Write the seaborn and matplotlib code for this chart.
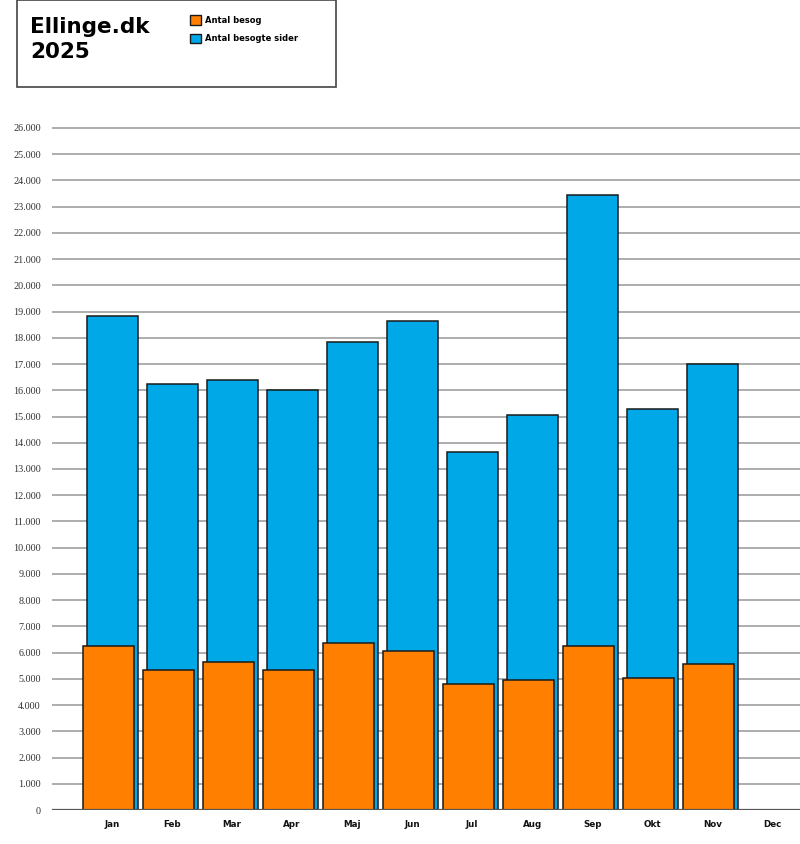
import numpy as np
import pandas as pd
import matplotlib
matplotlib.use("Agg")
import matplotlib.pyplot as plt
from matplotlib.patches import Rectangle
from matplotlib.ticker import FuncFormatter
import seaborn as sns

# data
months = ["Jan", "Feb", "Mar", "Apr", "Maj", "Jun", "Jul", "Aug", "Sep", "Okt", "Nov", "Dec"]
besog = [6250, 5320, 5630, 5320, 6350, 6050, 4810, 4960, 6250, 5035, 5550, np.nan]
besogte_sider = [18830, 16225, 16395, 16030, 17830, 18640, 13640, 15065, 23430, 15270, 16990, np.nan]
series_names = ["Antal besog", "Antal besogte sider"]
title_lines = ["Ellinge.dk", "2025"]

orange = "#FF8000"
blue = "#00A8E8"

df = pd.DataFrame({"month": months, "besog": besog, "sider": besogte_sider})

sns.set_style("white")
plt.rcParams["font.family"] = ["DejaVu Sans"]

W, H = 800, 844
fig = plt.figure(figsize=(W / 100, H / 100), dpi=100)
# axes placed in pixel terms: left edge 52px, zero line 810px, top 122.75px
ax = fig.add_axes([52 / W, 1 - 810 / H, 1 - 52 / W, (810 - 122.75) / H])

# gridlines first, bars over them
yticks = np.arange(0, 26001, 1000)
for t in yticks[1:]:
    ax.axhline(t, color="#a0a0a0", lw=1.2, zorder=0)
ax.axhline(0, color="#555555", lw=1.6, zorder=5)

sns.barplot(data=df, x="month", y="sider", order=months, color=blue, width=0.85,
            edgecolor="#1a1a1a", linewidth=1.1, saturation=1, ax=ax,
            label=series_names[1], zorder=2)
n_blue = len(ax.patches)
sns.barplot(data=df, x="month", y="besog", order=months, color=orange, width=0.85,
            edgecolor="#1a1a1a", linewidth=1.1, saturation=1, ax=ax,
            label=series_names[0], zorder=3)
# orange bars sit a few pixels left of the blue ones
for p in ax.patches[n_blue:]:
    p.set_x(p.get_x() - 0.058)

ax.set_xlim(-1.0, 11.46)
ax.set_ylim(0, 26200)
ax.set_yticks(yticks)
ax.yaxis.set_major_formatter(FuncFormatter(lambda v, _: f"{int(v):,}".replace(",", ".")))
ax.set_xlabel("")
ax.set_ylabel("")
ax.tick_params(axis="y", length=0, pad=8, labelsize=7.3, labelcolor="#333333")
ax.tick_params(axis="x", length=0, pad=7, labelsize=6.3, labelcolor="#111111")
for lab in ax.get_yticklabels():
    lab.set_family("Liberation Serif")
for lab in ax.get_xticklabels():
    lab.set_fontweight("bold")
for s in ax.spines.values():
    s.set_visible(False)
leg = ax.get_legend()
if leg is not None:
    leg.remove()

# header box with title and legend
fig.patches.append(Rectangle((17 / W, 1 - 87 / H), (336 - 17) / W, 86.5 / H,
                             transform=fig.transFigure, fill=False,
                             edgecolor="#444444", lw=1.2))
fig.text(30 / W, 1 - 17 / H, "\n".join(title_lines), ha="left", va="top",
         fontsize=15.5, fontweight="bold", linespacing=1.3, color="black")

handles = [Rectangle((0, 0), 1, 1, facecolor=orange, edgecolor="#1a1a1a", lw=1),
           Rectangle((0, 0), 1, 1, facecolor=blue, edgecolor="#1a1a1a", lw=1)]
leg = fig.legend(handles, series_names, loc="upper left",
                 bbox_to_anchor=(182 / W, 1 - 8 / H), frameon=False,
                 handlelength=1.4, handleheight=1.4, handletextpad=0.45,
                 labelspacing=1.05, prop={"weight": "bold", "size": 6.0})
for t in leg.get_texts():
    t.set_color("black")

fig.savefig("out.png", dpi=100)
